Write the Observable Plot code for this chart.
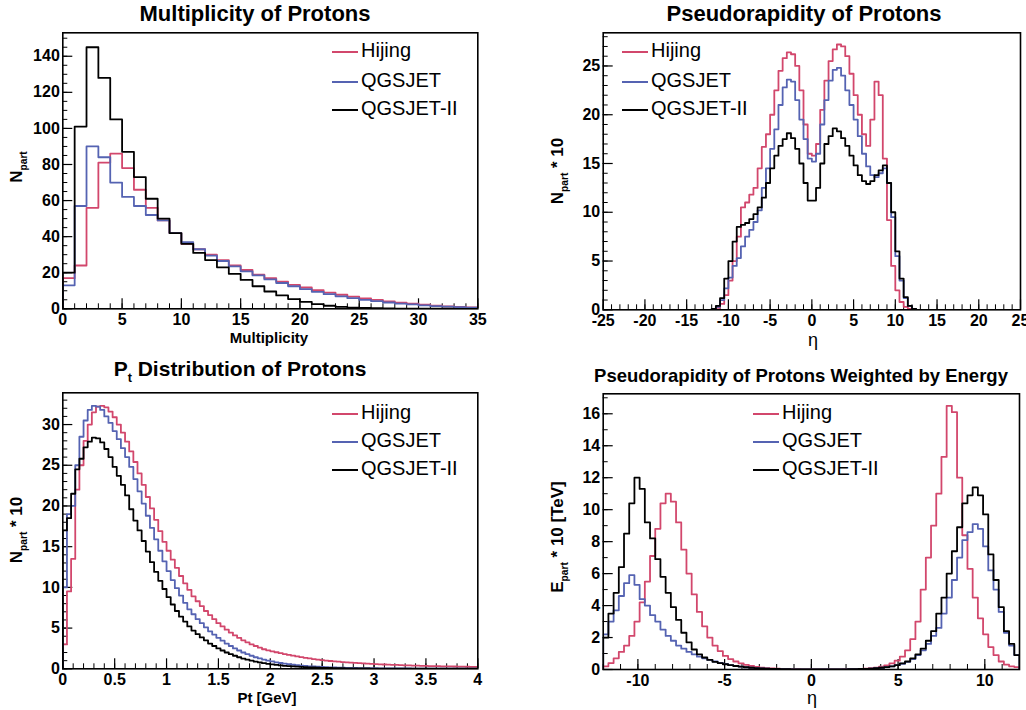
<!DOCTYPE html>
<html><head><meta charset="utf-8">
<script src="https://cdn.jsdelivr.net/npm/d3@7"></script>
<script src="https://cdn.jsdelivr.net/npm/@observablehq/plot@0.6"></script>
<style>
body{margin:0;background:#fff;font-family:"Liberation Sans",Arial,sans-serif;color:#000}
#page{position:relative;width:1026px;height:710px;overflow:hidden;background:#fff}
.panel{position:absolute}
.title{position:absolute;font-weight:bold;white-space:nowrap;transform:translate(-50%,-50%)}
.xlab{position:absolute;font-weight:bold;font-size:15px;transform:translate(-50%,-50%);white-space:nowrap}
.ylab{position:absolute;font-weight:bold;font-size:17px;transform:translate(-50%,-50%) rotate(-90deg);white-space:nowrap}
.ylab sub,.title sub{font-size:60%}
.leg{position:absolute;font-size:20px;line-height:24px;white-space:nowrap}
.leg .sw{display:inline-block;width:26px;border-top:2.5px solid;vertical-align:middle;margin-right:3px}
</style></head><body><div id="page"></div>
<script>
// ---------- series names & colours ----------
const seriesNames = ["Hijing", "QGSJET", "QGSJET-II"];
const seriesColors = ["#d2476c", "#5563b2", "#000000"];

// ---------- Panel 1: Multiplicity (bins of 1 from 0) ----------
const multStart = 0, multWidth = 1;
const multHijing = [17,24,56,81,86,78,66,56,49,42,36,33,30,27,24,21.5,19,17,15,13.3,11.8,10.3,9,7.8,6.7,5.7,4.9,4.1,3.4,2.8,2.3,1.8,1.4,1.1,0.8];
const multQgsjet = [13,57,90,84,70,62,57,52,49,42,37,33,29.5,26.5,23.5,20.8,18.5,16.3,14.3,12.5,10.9,9.4,8.1,6.9,5.9,5.0,4.2,3.5,2.9,2.4,1.9,1.5,1.2,0.9,0.7];
const multQgsjet2 = [20,101,145,128,105,87,73,61,50,42,36,31,27,23,19.4,16,12.5,9.6,7.4,5.4,3.8,2.6,1.7,1.1,0.7,0.45,0.3,0.2,0.12,0.08,0.05,0.03,0.02,0.01,0.01];
const multXTicks = [0,5,10,15,20,25,30,35];
const multYTicks = [0,20,40,60,80,100,120,140];

// ---------- Panel 2: Pseudorapidity (bins of 0.5 from -12.5) ----------
const etaStart = -12.5, etaWidth = 0.5;
const etaHijing = [0,0,0.2,0.6,1.5,3,5,7.5,10.5,11,11.8,12.5,14.5,16.7,18,20,22.5,24.5,25.8,26.4,26.2,25,22.5,19,16,15.8,17,20.5,23.5,25.5,26.7,27.2,27,26,24.2,22,20,18,16.8,19.5,23.4,22,15.5,9.2,4.5,2,0.8,0.3,0.1,0,0];
const etaQgsjet = [0,0.1,0.3,1,2.2,3.3,4.5,5.3,6.5,7.5,8.2,9,10.2,12.5,14.5,16.5,18.5,21,22.8,23.6,23.4,21.5,19.5,17.5,15.5,15.2,16,19,21.5,23.5,24.6,24.8,24,22.5,21,19.5,17.8,16,14.7,13.8,13.6,14,14.5,13,9.5,5.5,3,1.2,0.4,0.1,0];
const etaQgsjet2 = [0,0.1,0.4,1.2,3.2,5,7,8.5,8.7,8.9,9.3,9.8,10.5,11.5,13,14.5,15.8,16.8,17.5,18.1,17.6,16.5,15,13,11.2,11.2,12.5,15,17,17.8,18.6,18.3,17.6,16.8,15.8,14.8,13.8,13.2,12.9,13.2,13.8,14.3,14.8,13,10,6,3.2,1.3,0.4,0.1,0];
const etaXTicks = [-25,-20,-15,-10,-5,0,5,10,15,20,25];
const etaYTicks = [0,5,10,15,20,25];

// ---------- Panel 3: Pt (bins of 0.04 from 0) ----------
const ptStart = 0, ptWidth = 0.04;
const ptHijing = [3,9.5,13.5,22,25,28,30,31.5,32.2,32.3,
  32.1,31.6,30.9,30.0,29.0,27.9,26.7,25.4,24.0,22.6,
  21.1,19.7,18.3,16.9,15.6,14.5,13.4,12.4,11.4,10.5,
  9.7,8.9,8.3,7.7,7.1,6.6,6.1,5.6,5.2,4.8,
  4.45,4.1,3.8,3.5,3.25,3.0,2.8,2.6,2.4,2.27,
  2.15,2.03,1.92,1.81,1.71,1.61,1.52,1.43,1.35,1.27,
  1.2,1.13,1.07,1.01,0.96,0.91,0.87,0.83,0.79,0.75,
  0.72,0.69,0.66,0.63,0.6,0.57,0.55,0.53,0.51,0.49,
  0.47,0.45,0.43,0.41,0.4,0.38,0.37,0.36,0.34,0.33,
  0.32,0.31,0.3,0.29,0.28,0.27,0.26,0.25,0.24,0.23];
const ptQgsjet = [10,19,20,25,28.5,30.5,31.8,32.3,32.2,31.8,
  31.0,30.2,29.2,28.2,27.1,26.0,24.8,23.3,21.8,20.3,
  18.8,17.3,15.9,14.5,13.2,12.0,10.9,9.9,9.0,8.1,
  7.3,6.7,6.1,5.6,5.1,4.6,4.2,3.8,3.45,3.1,
  2.8,2.5,2.25,2.0,1.8,1.6,1.42,1.27,1.13,1.0,
  0.9,0.8,0.71,0.63,0.56,0.5,0.44,0.39,0.35,0.31,
  0.28,0.25,0.22,0.2,0.18,0.16,0.14,0.13,0.12,0.11,
  0.1,0.09,0.08,0.08,0.07,0.07,0.06,0.06,0.05,0.05,
  0.05,0.04,0.04,0.04,0.03,0.03,0.03,0.03,0.02,0.02,
  0.02,0.02,0.02,0.02,0.01,0.01,0.01,0.01,0.01,0.01];
const ptQgsjet2 = [17,18.5,21.5,24.5,25.8,27.2,27.9,28.4,28.3,27.8,
  27.0,26.0,24.8,23.7,22.6,21.3,19.6,18.2,17.0,15.7,
  14.4,13.1,11.9,10.8,9.8,8.8,7.9,7.1,6.4,5.8,
  5.2,4.7,4.25,3.85,3.5,3.1,2.8,2.5,2.25,2.0,
  1.8,1.6,1.42,1.26,1.12,1.0,0.88,0.78,0.69,0.61,
  0.54,0.48,0.42,0.37,0.33,0.29,0.26,0.23,0.2,0.18,
  0.16,0.14,0.12,0.11,0.1,0.09,0.08,0.07,0.06,0.06,
  0.05,0.05,0.04,0.04,0.03,0.03,0.03,0.02,0.02,0.02,
  0.02,0.02,0.01,0.01,0.01,0.01,0.01,0.01,0.01,0.01,
  0.01,0.01,0.01,0.01,0.01,0.01,0.01,0.01,0.01,0.01];
const ptXTicks = [0,0.5,1,1.5,2,2.5,3,3.5,4];
const ptYTicks = [0,5,10,15,20,25,30];

// ---------- Panel 4: Pseudorapidity weighted by energy (bins of 0.3 from -12) ----------
const ewStart = -12, ewWidth = 0.3;
const ewHijing = [0.2,0.4,0.7,1.1,1.5,2.1,3.0,4.2,5.5,7.1,
  8.8,10.4,11.0,10.5,9.2,7.5,6.0,4.7,3.6,2.7,
  2.0,1.5,1.15,0.85,0.65,0.5,0.38,0.29,0.22,0.16,
  0.12,0.09,0.07,0.05,0.04,0.03,0.02,0.02,0.01,0.01,
  0.01,0.01,0.01,0.01,0.01,0.01,0.015,0.02,0.03,0.04,
  0.06,0.08,0.12,0.18,0.26,0.38,0.55,0.8,1.2,1.9,
  3.0,5.0,7.0,9.0,11.0,13.3,16.5,16.1,12.0,8.4,
  6.3,4.5,3.2,2.2,1.4,0.9,0.5,0.3,0.2,0.15];
const ewQgsjet = [2.2,3.0,3.7,4.6,5.4,5.9,5.3,4.4,4.0,3.4,
  3.0,2.5,2.1,1.8,1.5,1.3,1.1,0.95,0.8,0.7,
  0.6,0.5,0.42,0.35,0.28,0.22,0.18,0.14,0.11,0.09,
  0.07,0.05,0.04,0.03,0.02,0.02,0.01,0.01,0.01,0.01,
  0.01,0.01,0.01,0.01,0.01,0.01,0.01,0.02,0.02,0.03,
  0.04,0.06,0.08,0.11,0.15,0.2,0.27,0.36,0.48,0.65,
  0.9,1.2,1.6,2.1,2.6,3.5,4.5,5.6,7.0,8.1,
  8.6,9.1,8.8,7.7,6.2,5.0,3.6,2.3,1.5,0.9];
const ewQgsjet2 = [2.0,3.5,4.8,6.4,8.5,10.4,12.0,11.3,9.2,8.2,
  6.9,5.8,4.8,3.9,3.1,2.3,1.7,1.25,0.95,0.75,
  0.6,0.48,0.4,0.33,0.27,0.22,0.18,0.14,0.11,0.09,
  0.07,0.05,0.04,0.03,0.02,0.02,0.01,0.01,0.01,0.01,
  0.01,0.01,0.01,0.01,0.01,0.01,0.01,0.02,0.02,0.03,
  0.04,0.06,0.08,0.11,0.15,0.2,0.28,0.38,0.5,0.7,
  0.95,1.3,1.8,2.4,3.5,4.5,6.0,7.4,8.9,10.4,
  10.9,11.4,10.9,9.7,7.2,5.6,3.9,2.4,1.6,0.9];
const ewXTicks = [-10,-5,0,5,10];
const ewYTicks = [0,2,4,6,8,10,12,14,16];

// ---------- helpers ----------
function histPoints(start, width, vals) {
  const pts = [{x: start, y: 0}];
  vals.forEach((v, i) => pts.push({x: start + i * width, y: v}));
  const end = start + vals.length * width;
  pts.push({x: end, y: vals[vals.length - 1]});
  pts.push({x: end, y: 0});
  return pts;
}
const page = document.getElementById("page");
function addDiv(cls, html, x, y, extra) {
  const d = document.createElement("div");
  d.className = cls; d.innerHTML = html;
  d.style.left = x + "px"; d.style.top = y + "px";
  if (extra) Object.assign(d.style, extra);
  page.appendChild(d);
  return d;
}
function panel(cfg) {
  const {left, top, width, height, mL, mR, mT, mB, xDomain, yDomain,
         xMajor, xMinor, yMajor, yMinor, start, binW, series} = cfg;
  const fw = width - mL - mR, fh = height - mT - mB;
  const marks = [
    Plot.ruleX(xMinor, {insetTop: fh - 5, stroke: "#000", strokeWidth: 1}),
    Plot.ruleX(xMajor, {insetTop: fh - 10, stroke: "#000", strokeWidth: 1.2}),
    Plot.ruleY(yMinor, {insetRight: fw - 5, stroke: "#000", strokeWidth: 1}),
    Plot.ruleY(yMajor, {insetRight: fw - 10, stroke: "#000", strokeWidth: 1.2})
  ];
  series.forEach((vals, i) => {
    marks.push(Plot.line(histPoints(start, binW, vals), {
      x: "x", y: "y", curve: "step-after", stroke: seriesColors[i],
      strokeWidth: 1.8, clip: true
    }));
  });
  marks.push(Plot.frame({stroke: "#000", strokeWidth: 1.6}));
  marks.push(Plot.axisX(xMajor, {tickSize: 0, tickPadding: 5, fontSize: 16, fontWeight: "bold", label: null, tickFormat: d => String(d)}));
  marks.push(Plot.axisY(yMajor, {tickSize: 0, tickPadding: 3, fontSize: 16, fontWeight: "bold", label: null, tickFormat: d => String(d)}));
  const svg = Plot.plot({
    width, height, marginLeft: mL, marginRight: mR, marginTop: mT, marginBottom: mB,
    x: {domain: xDomain}, y: {domain: yDomain},
    style: {fontFamily: "'Liberation Sans', Arial, sans-serif", color: "#000", background: "transparent", overflow: "visible"},
    marks
  });
  svg.classList.add("panel");
  svg.style.left = left + "px"; svg.style.top = top + "px";
  page.appendChild(svg);
}
function legend(x, ys) {
  seriesNames.forEach((n, i) => {
    addDiv("leg", `<span class="sw" style="border-color:${seriesColors[i]}"></span>${n}`, x, ys[i] - 12);
  });
}

// Panel 1
panel({left: 0, top: 25, width: 490, height: 325, mL: 62.3, mR: 12.7, mT: 7.3, mB: 41.7,
  xDomain: [0, 35], yDomain: [0, 153], xMajor: multXTicks, xMinor: d3.range(0, 35.01, 1),
  yMajor: multYTicks, yMinor: d3.range(0, 153, 5), start: multStart, binW: multWidth,
  series: [multHijing, multQgsjet, multQgsjet2]});
// Panel 2
panel({left: 520, top: 25, width: 506, height: 325, mL: 82.7, mR: 6, mT: 7.3, mB: 40.7,
  xDomain: [-25, 25], yDomain: [0, 28.4], xMajor: etaXTicks, xMinor: d3.range(-25, 25.01, 1),
  yMajor: etaYTicks, yMinor: d3.range(0, 28.4, 1), start: etaStart, binW: etaWidth,
  series: [etaHijing, etaQgsjet, etaQgsjet2]});
// Panel 3
panel({left: 0, top: 385, width: 490, height: 325, mL: 62.3, mR: 12.7, mT: 7.3, mB: 41.7,
  xDomain: [0, 4], yDomain: [0, 33.9], xMajor: ptXTicks, xMinor: d3.range(0, 4.001, 0.1),
  yMajor: ptYTicks, yMinor: d3.range(0, 33.9, 1), start: ptStart, binW: ptWidth,
  series: [ptHijing, ptQgsjet, ptQgsjet2]});
// Panel 4
panel({left: 520, top: 385, width: 506, height: 325, mL: 82.7, mR: 7, mT: 8.3, mB: 41,
  xDomain: [-12, 12], yDomain: [0, 17.25], xMajor: ewXTicks, xMinor: d3.range(-12, 12.01, 1),
  yMajor: ewYTicks, yMinor: d3.range(0, 17.25, 1), start: ewStart, binW: ewWidth,
  series: [ewHijing, ewQgsjet, ewQgsjet2]});

// Titles
addDiv("title", "Multiplicity of Protons", 255, 14, {fontSize: "22px"});
addDiv("title", "Pseudorapidity of Protons", 804, 14, {fontSize: "22px"});
addDiv("title", "P<sub>t</sub> Distribution of Protons", 240, 371, {fontSize: "21px"});
addDiv("title", "Pseudorapidity of Protons Weighted by Energy", 801, 376, {fontSize: "18.5px"});
// Axis titles
addDiv("xlab", "Multiplicity", 269, 337);
addDiv("xlab", "η", 813, 340, {fontWeight: "normal", fontSize: "18px"});
addDiv("xlab", "Pt [GeV]", 267, 697);
addDiv("xlab", "η", 812, 698, {fontWeight: "normal", fontSize: "18px"});
addDiv("ylab", "N<sub>part</sub>", 18, 167);
addDiv("ylab", "N<sub>part</sub> * 10", 559, 171);
addDiv("ylab", "N<sub>part</sub> * 10", 18, 530);
addDiv("ylab", "E<sub>part</sub> * 10 [TeV]", 559, 537);
// Legends
legend(332, [50, 80, 108]);
legend(622, [50, 80, 108]);
legend(332, [412, 440, 468]);
legend(753, [412, 440, 468]);
</script></body></html>
